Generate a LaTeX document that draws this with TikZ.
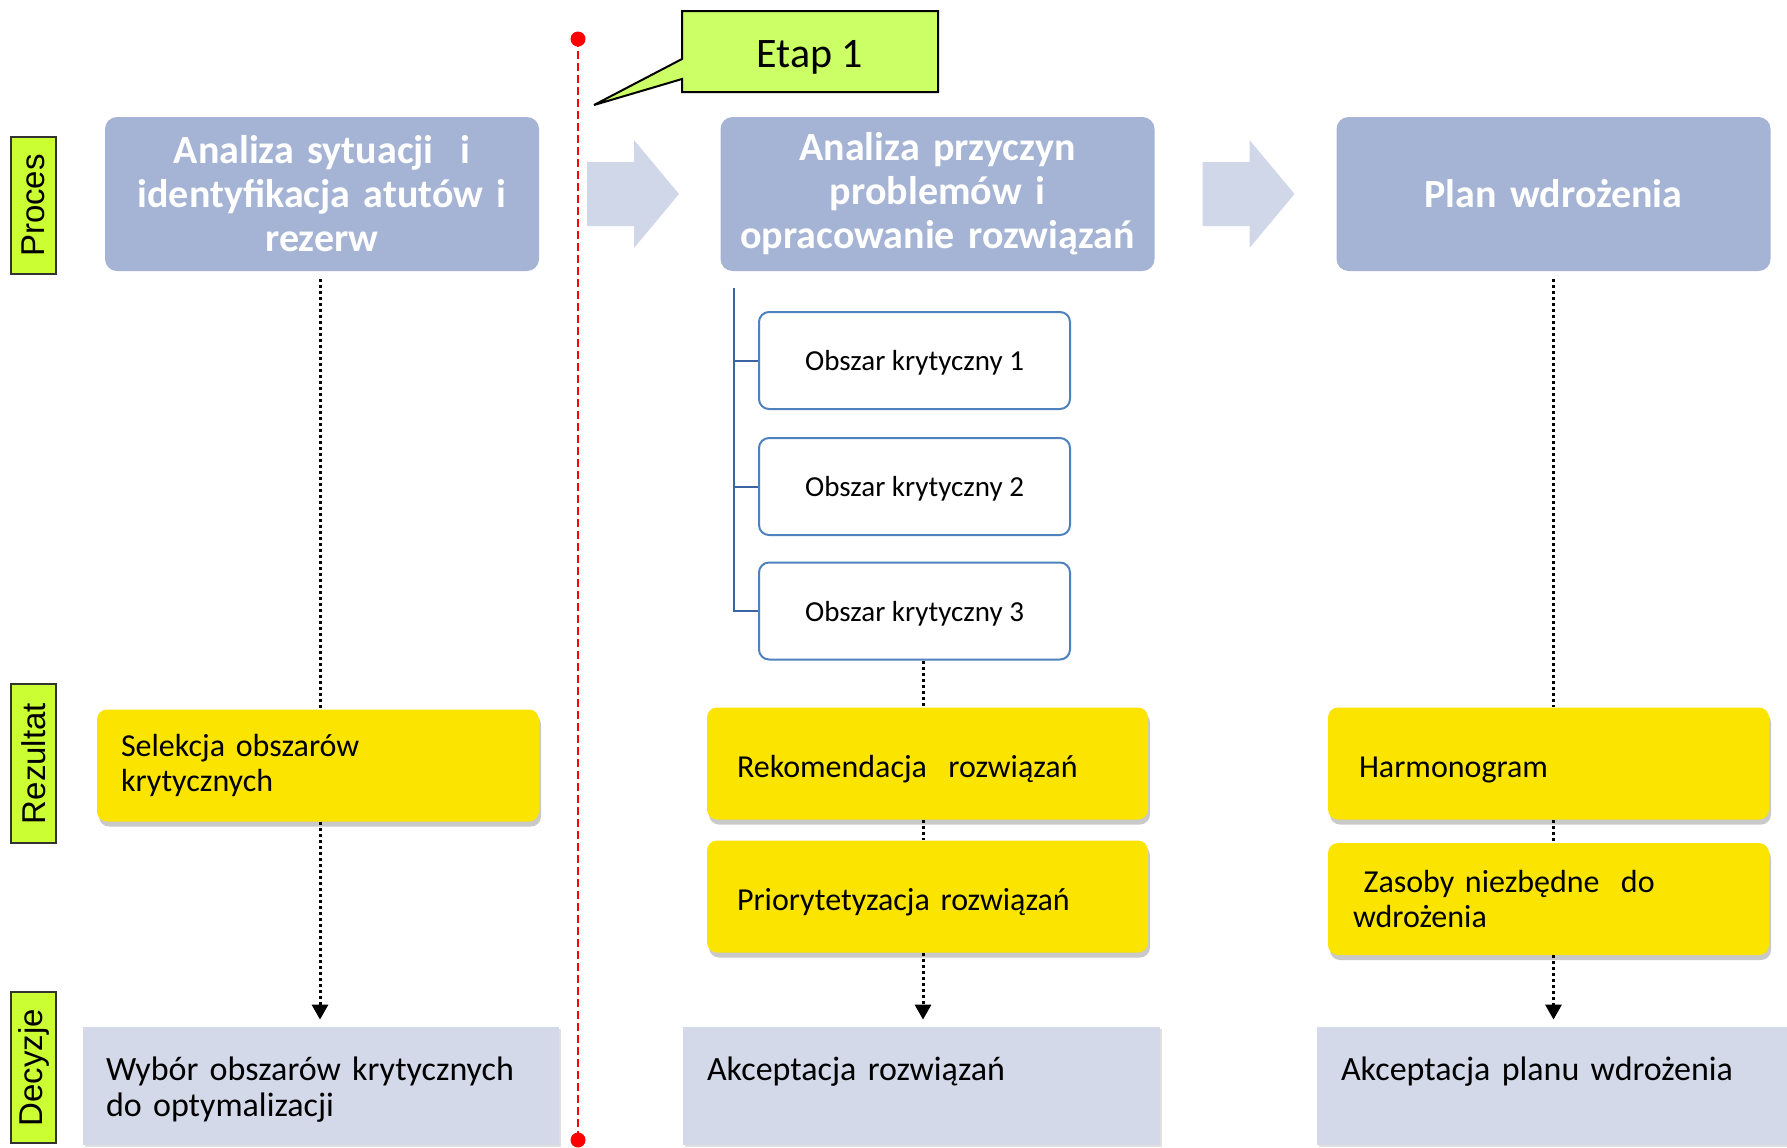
\documentclass[tikz,border=0pt]{standalone}
\usepackage{fontspec}
\setmainfont{Carlito}
\newfontfamily\lblfont{Liberation Sans}
\usepackage{tikz}
\usetikzlibrary{arrows.meta,shapes,positioning,shadows}
\usepackage{xcolor}
\definecolor{stblue}{RGB}{165,179,212}
\definecolor{arrowgray}{RGB}{208,215,232}
\definecolor{decgray}{RGB}{211,217,232}
\definecolor{lblgreen}{RGB}{204,255,51}
\definecolor{etapgreen}{RGB}{204,255,102}
\definecolor{resyellow}{RGB}{250,228,0}
\definecolor{areablue}{RGB}{79,129,189}
\definecolor{treeblue}{RGB}{60,100,165}
\tikzstyle{lbl} = [draw=black!80, line width=0.8pt, fill=lblgreen, rotate=90, minimum height=22.5pt, inner sep=0pt, font=\lblfont\fontsize{16.5}{18}\selectfont]
\tikzstyle{stage} = [fill=stblue, rounded corners=6pt, minimum width=217pt, minimum height=77pt, text width=210pt, align=center, text=white, font=\bfseries\fontsize{20}{22}\selectfont]
\tikzstyle{area} = [draw=areablue, line width=1pt, fill=white, rounded corners=5pt, minimum width=155.5pt, minimum height=48.5pt, text depth=0pt, font=\fontsize{14.5}{16}\selectfont]
\tikzstyle{result} = [fill=resyellow, rounded corners=5pt, minimum height=56pt, inner sep=0pt, align=left, font=\fontsize{16}{17.5}\selectfont, drop shadow={shadow xshift=1pt, shadow yshift=-2.5pt, opacity=0.3, fill=black!70}]
\tikzstyle{oneline} = [text height=14.4pt, text depth=0pt]
\tikzstyle{decision} = [fill=decgray, minimum height=59pt, inner sep=0pt, align=left, text depth=17.5pt, font=\fontsize{17}{18}\selectfont, drop shadow={shadow xshift=1pt, shadow yshift=-1pt, opacity=0.2, fill=black!60}]
\tikzstyle{dotline} = [black, line width=1.5pt, dash pattern=on 1.5pt off 1.5pt]
\tikzstyle{dotarrow} = [dotline, -{Triangle[width=8pt,length=7.5pt]}]
\tikzstyle{tree} = [draw=treeblue, line width=1pt]
\tikzstyle{stageline} = [red, line width=1pt, dash pattern=on 4pt off 2pt]

\begin{document}
\begin{tikzpicture}[x=50pt, y=-50pt]
    \useasboundingbox (0,0) rectangle (17.87,11.47);

    % Row labels
    \node[lbl, minimum width=68.5pt] (proces) at (0.335,2.055) {Proces};
    \node[lbl, minimum width=79.5pt] (rezultat) at (0.335,7.635) {Rezultat};
    \node[lbl, minimum width=75.5pt] (decyzje) at (0.335,10.675) {Decyzje};

    % Stage 1 marker
    \coordinate (cut1) at (5.78,0.39);
    \coordinate (cut2) at (5.78,11.40);
    \draw[stageline] (cut1) -- (cut2);
    \fill[red] (cut1) circle (3.75pt) (cut2) circle (3.75pt);
    \filldraw[line width=1pt, fill=etapgreen] (6.82,0.11) -- (9.38,0.11) -- (9.38,0.92) -- (6.82,0.92) -- (6.82,0.79) -- (5.94,1.05) -- (6.82,0.59) -- cycle;
    \node[font=\fontsize{21}{24}\selectfont] (etap) at (8.10,0.57) {Etap 1};

    % Block arrows between stages
    \foreach \dx in {0,6.155}
        \fill[arrowgray] (5.87+\dx,1.62) -- (6.34+\dx,1.62) -- (6.34+\dx,1.40) -- (6.79+\dx,1.94)
            -- (6.34+\dx,2.48) -- (6.34+\dx,2.26) -- (5.87+\dx,2.26) -- cycle;

    % Process stages
    \node[stage] (st1) at (3.22,1.94) {Analiza sytuacji\ \ i\\identyfikacja atutów i\\rezerw};
    \node[stage] (st2) at (9.375,1.94) {Analiza przyczyn\\problemów i\\opracowanie rozwiązań};
    \node[stage] (st3) at (15.535,1.94) {Plan wdrożenia};

    % Critical areas
    \node[area] (ob1) at (9.145,3.605) {Obszar krytyczny 1};
    \node[area] (ob2) at (9.145,4.865) {Obszar krytyczny 2};
    \node[area] (ob3) at (9.145,6.11) {Obszar krytyczny 3};
    \coordinate (treetop) at (7.34,2.88);
    \draw[tree] (treetop) |- (ob3.west);
    \draw[tree] (ob1.west -| treetop) -- (ob1.west);
    \draw[tree] (ob2.west -| treetop) -- (ob2.west);

    % Results
    \node[result, inner xsep=12pt, text width=197pt] (sel) at (3.18,7.655) {Selekcja obszarów\\krytycznych};
    \node[result, oneline, inner xsep=15pt, text width=190.5pt] (rek) at (9.275,7.635) {Rekomendacja\ \ rozwiązań};
    \node[result, oneline, inner xsep=15pt, text width=190.5pt] (prio) at (9.275,8.965) {Priorytetyzacja rozwiązań};
    \node[result, oneline, inner xsep=15.5pt, text width=189.5pt] (harm) at (15.485,7.635) {Harmonogram};
    \node[result, inner xsep=12.5pt, text width=195.5pt] (zas) at (15.485,8.99) {\ Zasoby niezbędne\ \ do\\wdrożenia};

    % Decisions
    \node[decision, inner xsep=11.5pt, text width=215pt] (dec1) at (3.21,10.86) {Wybór obszarów krytycznych\\do optymalizacji};
    \node[decision, inner xsep=12pt, text width=214.5pt] (dec2) at (9.215,10.86) {Akceptacja rozwiązań\\\mbox{}};
    \node[decision, inner xsep=12pt, text width=211pt] (dec3) at (15.52,10.86) {Akceptacja planu wdrożenia\\\mbox{}};

    % Dotted flow
    \draw[dotline, shorten <=4pt] ([xshift=-1pt]st1.south) -- ([xshift=-1pt]st1.south |- sel.north);
    \draw[dotarrow, shorten >=3.5pt] ([xshift=-1pt]st1.south |- sel.south) -- ([xshift=-1pt]st1.south |- dec1.north);
    \draw[dotline] ([xshift=-2.25pt]rek.north |- ob3.south) -- ([xshift=-2.25pt]rek.north);
    \draw[dotline] ([xshift=-2.25pt]rek.south) -- ([xshift=-2.25pt]prio.north);
    \draw[dotarrow, shorten >=3.5pt] ([xshift=-2.25pt]prio.south) -- ([xshift=-2.25pt]prio.south |- dec2.north);
    \draw[dotline, shorten <=4pt] (st3.south) -- (st3.south |- harm.north);
    \draw[dotline] (st3.south |- harm.south) -- (st3.south |- zas.north);
    \draw[dotarrow, shorten >=3.5pt] (st3.south |- zas.south) -- (st3.south |- dec3.north);
\end{tikzpicture}
\end{document}
